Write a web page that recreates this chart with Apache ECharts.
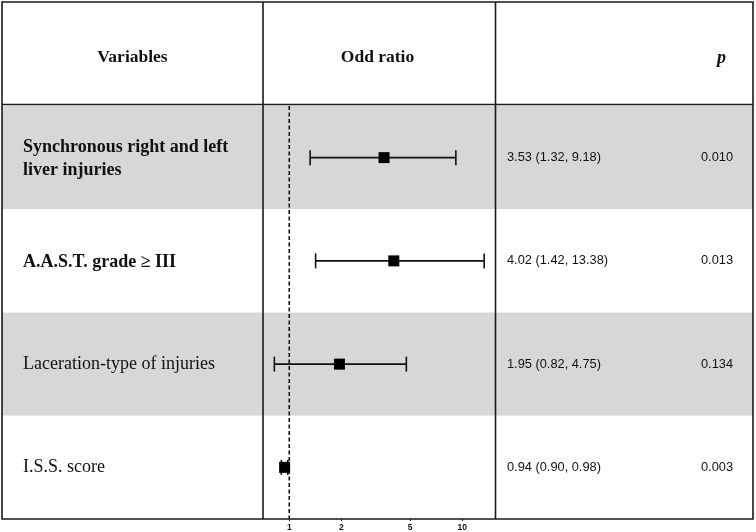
<!DOCTYPE html>
<html><head><meta charset="utf-8">
<script src="https://cdn.jsdelivr.net/npm/echarts@6/dist/echarts.min.js"></script>
<style>html,body{margin:0;padding:0;background:#fff}#c{width:756px;height:532px}</style>
</head><body><div id="c"></div>
<script>
const variables = ['Synchronous right and left\nliver injuries', 'A.A.S.T. grade \u2265 III', 'Laceration-type of injuries', 'I.S.S. score'];
const boldLabel = [true, true, false, false];
const oddRatio = [3.53, 4.02, 1.95, 0.94];
const ciLow = [1.32, 1.42, 0.82, 0.90];
const ciHigh = [9.18, 13.38, 4.75, 0.98];
const orText = ['3.53 (1.32, 9.18)', '4.02 (1.42, 13.38)', '1.95 (0.82, 4.75)', '0.94 (0.90, 0.98)'];
const pValues = ['0.010', '0.013', '0.134', '0.003'];
const xTicks = [1, 2, 5, 10];
const refValue = [1];
const headers = ['Variables', 'Odd ratio', 'p'];

const chart = echarts.init(document.getElementById('c'), null, {renderer: 'canvas'});
const serif = 'Liberation Serif, Times New Roman, serif';
const sans = 'Liberation Sans, Arial, sans-serif';
const ink = '#111';
const frame = {stroke: '#1a1a1a', lineWidth: 1.6};

const option = {
  backgroundColor: '#fff',
  animation: false,
  title: [
    {text: headers[0], left: 127.5, top: 52, textAlign: 'center', textVerticalAlign: 'middle',
     textStyle: {fontFamily: serif, fontWeight: 'bold', fontSize: 17.5, color: ink}},
    {text: headers[1], left: 372.5, top: 52, textAlign: 'center', textVerticalAlign: 'middle',
     textStyle: {fontFamily: serif, fontWeight: 'bold', fontSize: 17.5, color: ink}},
    {text: headers[2], left: 716.5, top: 53, textAlign: 'center', textVerticalAlign: 'middle',
     textStyle: {fontFamily: serif, fontWeight: 'bold', fontStyle: 'italic', fontSize: 18, color: ink}}
  ],
  grid: [
    {left: 2, right: 3, top: 106, bottom: 13, containLabel: false},
    {left: 263, right: 260.3, top: 106, bottom: 13, containLabel: false}
  ],
  xAxis: [
    {type: 'value', gridIndex: 0, min: 0, max: 1, show: false},
    {type: 'log', gridIndex: 1, logBase: 10, min: 0.705, max: 15.6,
     axisLine: {show: false}, splitLine: {show: false},
     axisTick: {show: true, customValues: xTicks, length: 2, lineStyle: {color: ink, width: 1}},
     axisLabel: {customValues: xTicks, fontSize: 8.5, fontWeight: 'bold', color: ink, margin: 4, fontFamily: sans}}
  ],
  yAxis: [
    {type: 'category', gridIndex: 0, data: variables, inverse: true,
     axisLine: {show: false}, axisTick: {show: false}, splitLine: {show: false},
     splitArea: {show: true, areaStyle: {color: ['#d7d7d7', '#ffffff']}},
     axisLabel: {inside: true, margin: 21,
       formatter: function (v, i) { return boldLabel[i] ? '{b|' + v.split('\n').join('}\n{b|') + '}' : '{n|' + v + '}'; },
       rich: {
         b: {fontFamily: serif, fontWeight: 'bold', fontSize: 18, color: ink, lineHeight: 22.5, padding: [2, 0, 0, 0]},
         n: {fontFamily: serif, fontSize: 18, color: ink, lineHeight: 22.5}
       }}},
    {type: 'category', gridIndex: 0, data: orText, inverse: true, position: 'left', offset: -503,
     axisLine: {show: false}, axisTick: {show: false}, splitLine: {show: false},
     axisLabel: {inside: true, margin: 2, fontFamily: sans, fontSize: 12.8, color: ink}},
    {type: 'category', gridIndex: 0, data: pValues, inverse: true, position: 'left', offset: -697,
     axisLine: {show: false}, axisTick: {show: false}, splitLine: {show: false},
     axisLabel: {inside: true, margin: 2, fontFamily: sans, fontSize: 12.8, color: ink}},
    {type: 'category', gridIndex: 1, data: variables, inverse: true, show: false}
  ],
  series: [{
    type: 'custom',
    xAxisIndex: 1, yAxisIndex: 3,
    data: refValue.map(v => [v, 0]),
    encode: {x: 0, y: 1},
    renderItem: function (params, api) {
      const p = api.coord([api.value(0), 0]);
      const cs = params.coordSys;
      return {type: 'line', shape: {x1: p[0], y1: cs.y, x2: p[0], y2: cs.y + cs.height},
        style: {stroke: ink, lineWidth: 1.6, lineDash: [4, 2.5]}};
    },
    z: 4
  }, {
    type: 'custom',
    xAxisIndex: 1, yAxisIndex: 3,
    data: variables.map((v, i) => [ciLow[i], oddRatio[i], ciHigh[i], i]),
    encode: {x: [0, 1, 2], y: 3},
    renderItem: function (params, api) {
      const idx = api.value(3);
      const pl = api.coord([api.value(0), idx]);
      const pm = api.coord([api.value(1), idx]);
      const ph = api.coord([api.value(2), idx]);
      const cap = 7.5, s = 5.5;
      const st = {stroke: ink, lineWidth: 1.6, fill: null};
      return {type: 'group', children: [
        {type: 'line', shape: {x1: pl[0], y1: pl[1], x2: ph[0], y2: ph[1]}, style: st},
        {type: 'line', shape: {x1: pl[0], y1: pl[1] - cap, x2: pl[0], y2: pl[1] + cap}, style: st},
        {type: 'line', shape: {x1: ph[0], y1: ph[1] - cap, x2: ph[0], y2: ph[1] + cap}, style: st},
        {type: 'rect', shape: {x: pm[0] - s, y: pm[1] - s, width: 2 * s, height: 2 * s}, style: {fill: '#000'}}
      ]};
    },
    z: 5
  }],
  graphic: [
    {type: 'rect', z: 100, shape: {x: 2, y: 2, width: 751, height: 517}, style: {fill: null, stroke: frame.stroke, lineWidth: frame.lineWidth}},
    {type: 'line', z: 100, shape: {x1: 2, y1: 104.5, x2: 753, y2: 104.5}, style: frame},
    {type: 'line', z: 100, shape: {x1: 263, y1: 2, x2: 263, y2: 519}, style: frame},
    {type: 'line', z: 100, shape: {x1: 495.5, y1: 2, x2: 495.5, y2: 519}, style: frame}
  ]
};
chart.setOption(option);
</script></body></html>
